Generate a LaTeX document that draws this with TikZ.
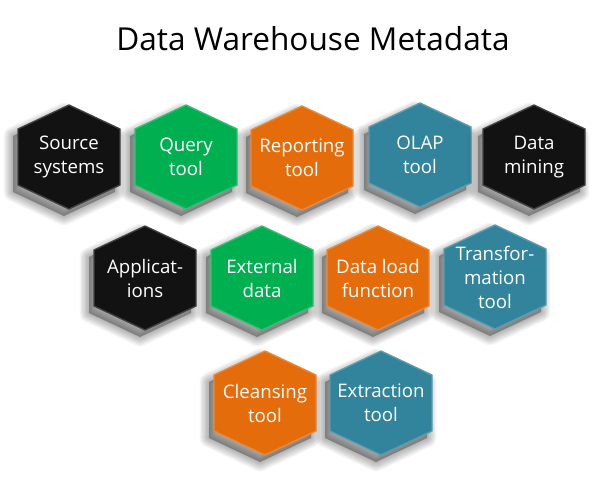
\documentclass[tikz,border=0pt]{standalone}
\usepackage{fontspec}
\setmainfont{Open Sans}
\definecolor{hexblack}{HTML}{121212}
\definecolor{hexgreen}{HTML}{00B050}
\definecolor{hexorange}{HTML}{E46C0A}
\definecolor{hexteal}{HTML}{31849B}
\newcommand\hexpath{(0,-52) -- (51,-28) -- (51,28) -- (0,52) -- (-51,28) -- (-51,-28) -- cycle}
\newcommand\hexcell[5]{%
  \begin{scope}[shift={(#2,#3)}]
    \begin{scope}[shift={(-5,7)}]
      \foreach \w in {14,12,10,8,6,4,2}{\draw[black, opacity=0.045, line width=\w, line join=round] \hexpath;}
      \fill[black, opacity=0.3] \hexpath;
    \end{scope}
    \filldraw[fill=#4, draw=#4!80!white, line width=1] \hexpath;
    \node[hexlabel] (#1) at (0,0) {#5};
  \end{scope}}
\begin{document}
\begin{tikzpicture}[x=0.75pt,y=-0.75pt,
  hexlabel/.style={text=white, align=center, font=\fontsize{14}{18}\selectfont, inner sep=0pt},
  titlestyle/.style={font=\fontsize{23.7}{28}\selectfont, text=black, inner sep=0pt}]
\useasboundingbox (0,0) rectangle (600,500);
\fill[white] (0,0) rectangle (600,500);
\node[titlestyle, anchor=base] (title) at (313,50) {Data Warehouse Metadata};
\hexcell{src}{69}{157}{hexblack}{Source\\systems}
\hexcell{qry}{186}{157}{hexgreen}{Query\\tool}
\hexcell{rep}{302}{158}{hexorange}{Reporting\\tool}
\hexcell{olap}{420}{155}{hexteal}{OLAP\\tool}
\hexcell{dm}{534}{157}{hexblack}{Data\\mining}
\hexcell{app}{145}{278}{hexblack}{Applicat-\\ions}
\hexcell{ext}{262}{278}{hexgreen}{External\\data}
\hexcell{dlf}{378}{278}{hexorange}{Data load\\function}
\hexcell{trf}{495}{277}{hexteal}{Transfor-\\mation\\tool}
\hexcell{cln}{265}{403}{hexorange}{Cleansing\\tool}
\hexcell{extr}{381}{403}{hexteal}{Extraction\\tool}
\end{tikzpicture}
\end{document}
